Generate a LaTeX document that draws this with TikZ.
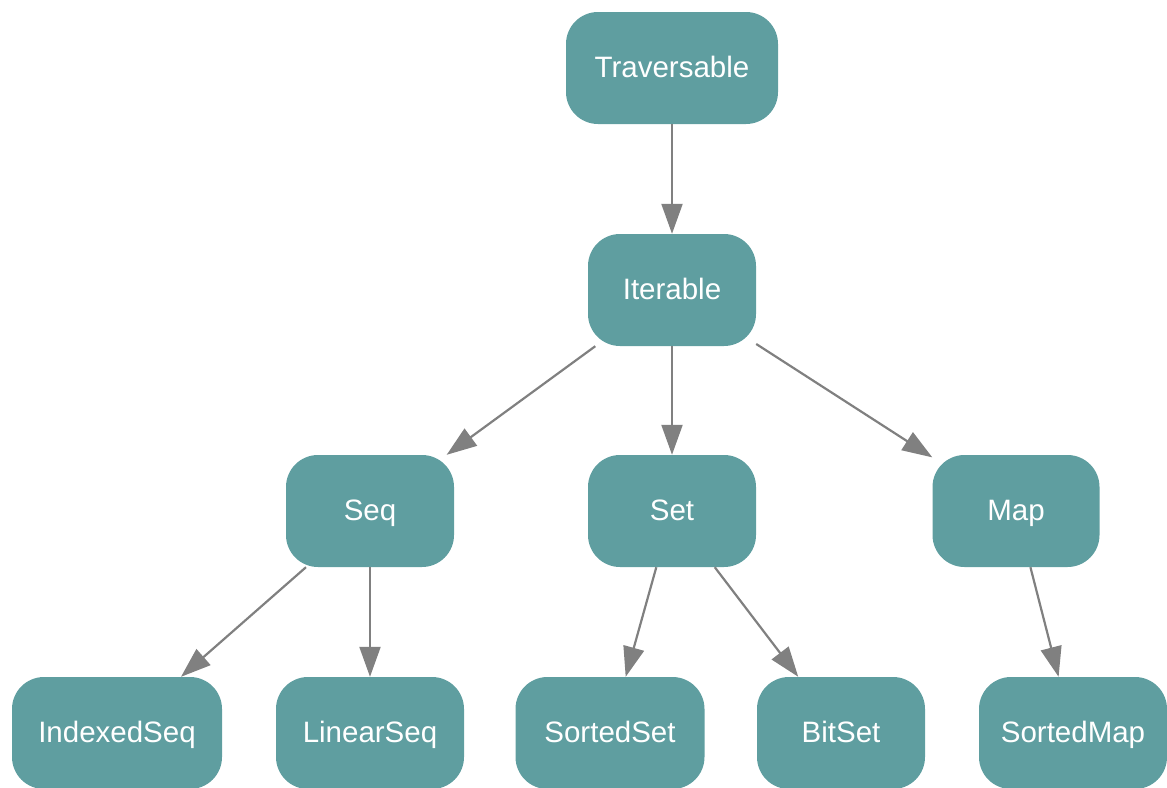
\documentclass[tikz,border=0pt]{standalone}
\usepackage{fontspec}
\setmainfont{Liberation Sans}
\usetikzlibrary{arrows.meta}
\definecolor{cadet}{HTML}{5F9EA0}
\definecolor{edgegray}{HTML}{808080}
\begin{document}
\begin{tikzpicture}[x=1pt, y=-1pt, font=\fontsize{29.5}{35}\selectfont,
	cls/.style={fill=cadet, text=white, rounded corners=32pt, minimum height=112pt, inner sep=0pt, text height=21pt, text depth=3pt},
	inh/.style={draw=edgegray, line width=2.2pt, -{Triangle[length=30pt, width=21pt]}}]
	\useasboundingbox (0,0) rectangle (1167,787);
	% top of the hierarchy
	\node[cls, minimum width=212pt] (trav) at (672,68) {Traversable};
	\node[cls, minimum width=168pt] (iter) at (672,290) {Iterable};
	% collection kinds
	\node[cls, minimum width=168pt] (seq) at (370,511) {Seq};
	\node[cls, minimum width=168pt] (set) at (672,511) {Set};
	\node[cls, minimum width=167pt] (map) at (1016,511) {Map};
	% concrete traits
	\node[cls, minimum width=210pt] (iseq) at (117,733) {IndexedSeq};
	\node[cls, minimum width=188pt] (lseq) at (370,733) {LinearSeq};
	\node[cls, minimum width=189pt] (sset) at (610,733) {SortedSet};
	\node[cls, minimum width=168pt] (bset) at (841,733) {BitSet};
	\node[cls, minimum width=188pt] (smap) at (1073,733) {SortedMap};
	\foreach \a/\b in {trav/iter, iter/seq, iter/set, iter/map, seq/iseq, seq/lseq, set/sset, set/bset, map/smap}
		\draw[inh] (\a) -- (\b);
\end{tikzpicture}
\end{document}
